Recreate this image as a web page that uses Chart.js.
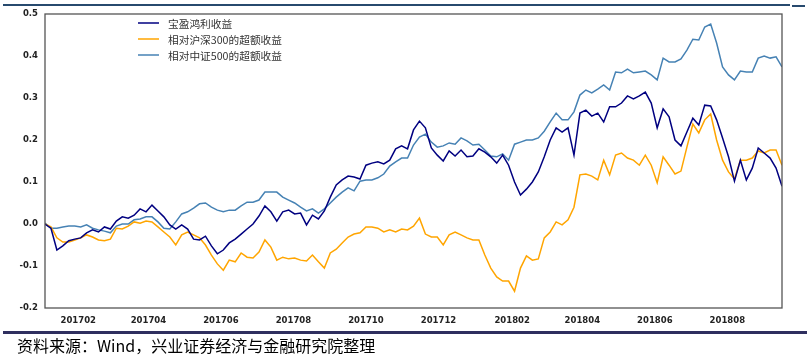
<!DOCTYPE html>
<html><head><meta charset="utf-8">
<script src="https://cdn.jsdelivr.net/npm/chart.js@4.4.0/dist/chart.umd.min.js"></script>
<style>html,body{margin:0;padding:0;background:#fff;overflow:hidden}#wrap{width:810px;height:357px;position:relative}</style>
</head><body><div id="wrap"><canvas id="c"></canvas></div>
<script>
// Sample days counted from 2017-01-01, one sample every 5 calendar days
const startDay = 3, stepDays = 5, endDay = 623;
const tickDays = [31, 90, 151, 212, 273, 334, 396, 455, 516, 577];
const tickLabels = ['201702','201704','201706','201708','201710','201712','201802','201804','201806','201808'];
const yTickValues = [-0.2, -0.1, 0, 0.1, 0.2, 0.3, 0.4, 0.5];
const yTickLabels = ['-0.2','-0.1','0.0','0.1','0.2','0.3','0.4','0.5'];
const seriesNames = ['宝盈鸿利收益', '相对沪深300的超额收益', '相对中证500的超额收益'];
const seriesColors = ['#000080', '#FFA500', '#4682B4'];

const fundReturn = [
  0.000,-0.010,-0.062,-0.052,-0.040,-0.036,-0.033,-0.021,-0.014,-0.019,
 -0.007,-0.012, 0.007, 0.017, 0.014, 0.021, 0.036, 0.029, 0.045, 0.031,
  0.017,-0.002,-0.012,-0.002,-0.012,-0.036,-0.038,-0.029,-0.052,-0.071,
 -0.062,-0.045,-0.036,-0.024,-0.012, 0.000, 0.019, 0.043, 0.029, 0.007,
  0.029, 0.033, 0.024, 0.026,-0.002, 0.021, 0.012, 0.031, 0.064, 0.093,
  0.105, 0.114, 0.112, 0.107, 0.140, 0.145, 0.148, 0.143, 0.152, 0.179,
  0.186, 0.179, 0.224, 0.245, 0.229, 0.181, 0.164, 0.150, 0.174, 0.162,
  0.176, 0.160, 0.162, 0.179, 0.171, 0.160, 0.145, 0.164, 0.140, 0.100,
  0.069, 0.083, 0.100, 0.124, 0.160, 0.200, 0.229, 0.219, 0.229, 0.164,
  0.264, 0.271, 0.257, 0.264, 0.243, 0.279, 0.279, 0.288, 0.305, 0.298,
  0.305, 0.314, 0.288, 0.229, 0.274, 0.255, 0.200, 0.186, 0.219, 0.252,
  0.236, 0.283, 0.281, 0.248, 0.205, 0.160, 0.102, 0.152, 0.105, 0.133,
  0.181, 0.169, 0.157, 0.133, 0.090
];
const excessHS300 = [
  0.000,-0.007,-0.033,-0.043,-0.043,-0.038,-0.033,-0.026,-0.031,-0.038,
 -0.040,-0.036,-0.010,-0.012,-0.005, 0.005, 0.002, 0.007, 0.005,-0.007,
 -0.019,-0.031,-0.050,-0.026,-0.019,-0.026,-0.033,-0.050,-0.074,-0.095,
 -0.110,-0.086,-0.090,-0.069,-0.079,-0.081,-0.067,-0.038,-0.055,-0.086,
 -0.079,-0.083,-0.081,-0.086,-0.088,-0.074,-0.090,-0.105,-0.069,-0.060,
 -0.045,-0.031,-0.024,-0.021,-0.007,-0.007,-0.010,-0.019,-0.014,-0.019,
 -0.012,-0.014,-0.005, 0.014,-0.024,-0.031,-0.031,-0.050,-0.026,-0.019,
 -0.026,-0.033,-0.038,-0.038,-0.074,-0.105,-0.126,-0.136,-0.136,-0.160,
 -0.105,-0.076,-0.086,-0.083,-0.033,-0.019, 0.005,-0.002, 0.010, 0.040,
  0.117, 0.119, 0.114, 0.105, 0.152, 0.117, 0.164, 0.169, 0.157, 0.152,
  0.140, 0.164, 0.140, 0.098, 0.160, 0.140, 0.119, 0.126, 0.183, 0.238,
  0.217, 0.248, 0.262, 0.200, 0.152, 0.124, 0.107, 0.152, 0.152, 0.157,
  0.174, 0.169, 0.176, 0.176, 0.140
];
const excessZZ500 = [
  0.002,-0.010,-0.010,-0.007,-0.005,-0.005,-0.007,-0.002,-0.010,-0.014,
 -0.017,-0.021,-0.005, 0.000, 0.000, 0.010, 0.012, 0.017, 0.017, 0.005,
 -0.010,-0.012, 0.005, 0.024, 0.029, 0.038, 0.048, 0.050, 0.040, 0.033,
  0.029, 0.033, 0.033, 0.043, 0.052, 0.052, 0.057, 0.076, 0.076, 0.076,
  0.064, 0.057, 0.050, 0.040, 0.031, 0.036, 0.026, 0.036, 0.050, 0.064,
  0.076, 0.086, 0.079, 0.102, 0.105, 0.105, 0.110, 0.119, 0.138, 0.148,
  0.157, 0.157, 0.188, 0.207, 0.214, 0.195, 0.183, 0.186, 0.193, 0.190,
  0.205, 0.198, 0.188, 0.190, 0.176, 0.162, 0.160, 0.167, 0.152, 0.190,
  0.195, 0.200, 0.200, 0.205, 0.221, 0.243, 0.264, 0.248, 0.248, 0.267,
  0.307, 0.319, 0.312, 0.321, 0.331, 0.319, 0.362, 0.360, 0.369, 0.360,
  0.362, 0.364, 0.355, 0.343, 0.395, 0.386, 0.386, 0.393, 0.414, 0.440,
  0.438, 0.469, 0.476, 0.431, 0.374, 0.355, 0.343, 0.364, 0.362, 0.362,
  0.395, 0.400, 0.395, 0.398, 0.374
];
const footerText = '资料来源：Wind，兴业证券经济与金融研究院整理';

const toPoints = arr => arr.map((v, i) => ({x: startDay + i * stepDays, y: v}));
const allSeries = [fundReturn, excessHS300, excessZZ500];

const decor = {
  id: 'decor',
  afterDraw(chart) {
    const ctx = chart.ctx, a = chart.chartArea;
    ctx.save();
    // frame
    ctx.strokeStyle = '#555';
    ctx.lineWidth = 1.3;
    ctx.strokeRect(a.left, a.top, a.right - a.left, a.bottom - a.top);
    // legend
    ctx.font = '10.7px "Noto Sans CJK SC"';
    ctx.textBaseline = 'middle';
    const rows = [23, 39, 55];
    seriesNames.forEach((n, i) => {
      ctx.strokeStyle = seriesColors[i];
      ctx.lineWidth = 1.5;
      ctx.beginPath(); ctx.moveTo(138, rows[i]); ctx.lineTo(159, rows[i]); ctx.stroke();
      ctx.fillStyle = '#333';
      ctx.fillText(n, 168, rows[i] + 0.5);
    });
    // top rule
    ctx.strokeStyle = '#274a6e';
    ctx.lineWidth = 2;
    ctx.beginPath(); ctx.moveTo(3, 5); ctx.lineTo(790, 5); ctx.stroke();
    ctx.beginPath(); ctx.moveTo(792, 6); ctx.lineTo(805, 6); ctx.stroke();
    // bottom rule
    ctx.strokeStyle = '#2f2f5f';
    ctx.lineWidth = 3;
    ctx.beginPath(); ctx.moveTo(3, 332.5); ctx.lineTo(807, 332.5); ctx.stroke();
    // footer
    ctx.fillStyle = '#000';
    ctx.font = '16px "Noto Sans CJK SC"';
    ctx.textBaseline = 'middle';
    ctx.fillText(footerText, 17, 346);
    ctx.restore();
  }
};

new Chart(document.getElementById('c'), {
  type: 'line',
  data: {
    datasets: allSeries.map((arr, i) => ({
      label: seriesNames[i],
      data: toPoints(arr),
      borderColor: seriesColors[i],
      backgroundColor: seriesColors[i],
      borderWidth: 1.5,
      pointRadius: 0,
      tension: 0,
      fill: false
    }))
  },
  options: {
    responsive: true,
    maintainAspectRatio: false,
    animation: false,
    events: [],
    layout: {padding: {top: 14, right: 28, left: 0, bottom: 0}},
    plugins: {legend: {display: false}, tooltip: {enabled: false}},
    scales: {
      x: {
        type: 'linear', min: startDay, max: endDay,
        grid: {display: false, drawTicks: false},
        border: {display: false},
        afterBuildTicks: s => { s.ticks = tickDays.map(v => ({value: v})); },
        afterFit: s => { s.height = 49; },
        ticks: {
          autoSkip: false, maxRotation: 0, padding: 8,
          color: '#222', font: {family: 'DejaVu Sans', size: 8.5, weight: 'bold'},
          callback: v => tickLabels[tickDays.indexOf(v)]
        }
      },
      y: {
        min: -0.2, max: 0.5,
        grid: {display: false, drawTicks: false},
        border: {display: false},
        afterBuildTicks: s => { s.ticks = yTickValues.map(v => ({value: v})); },
        afterFit: s => { s.width = 45; },
        ticks: {
          padding: 7, color: '#222',
          font: {family: 'DejaVu Sans', size: 8.5, weight: 'bold'},
          callback: v => yTickLabels[yTickValues.findIndex(t => Math.abs(t - v) < 1e-9)]
        }
      }
    }
  },
  plugins: [decor]
});
</script></body></html>
